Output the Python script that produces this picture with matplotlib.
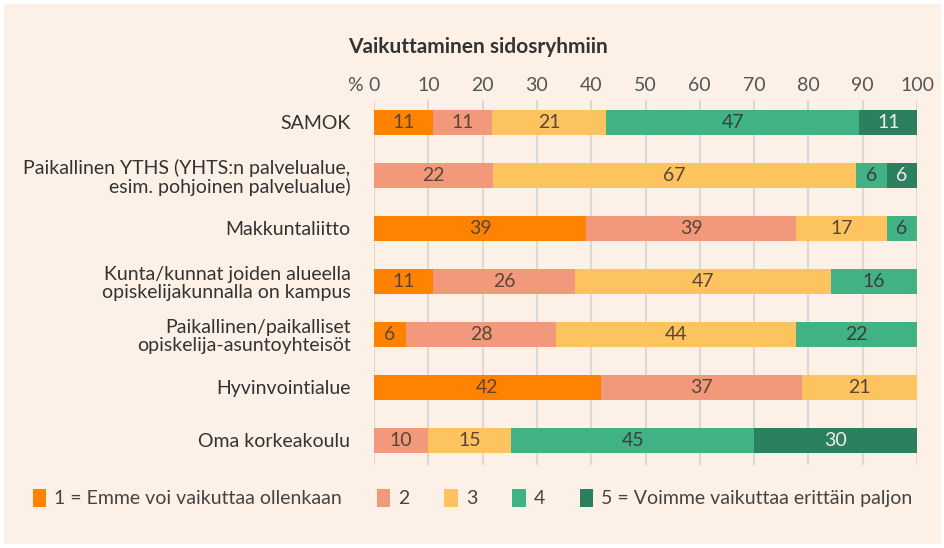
import matplotlib.pyplot as plt
from matplotlib.patches import Rectangle

plt.rcParams['font.family'] = ['Lato', 'DejaVu Sans']

categories = ["SAMOK",
              "Paikallinen YTHS (YHTS:n palvelualue,\nesim. pohjoinen palvelualue)",
              "Makkuntaliitto",
              "Kunta/kunnat joiden alueella\nopiskelijakunnalla on kampus",
              "Paikallinen/paikalliset\nopiskelija-asuntoyhteisöt",
              "Hyvinvointialue",
              "Oma korkeakoulu"]

# share of answers (%) per answer option 1..5
s1 = [10.9, 0, 39.1, 10.9, 5.9, 41.8, 0]
s2 = [10.9, 21.9, 38.7, 26.1, 27.6, 37.0, 10.0]
s3 = [21.0, 66.9, 16.6, 47.2, 44.2, 21.2, 15.3]
s4 = [46.6, 5.6, 5.6, 15.8, 22.3, 0, 44.7]
s5 = [10.6, 5.6, 0, 0, 0, 0, 30.0]

series_names = ["1 = Emme voi vaikuttaa ollenkaan", "2", "3", "4",
                "5 = Voimme vaikuttaa erittäin paljon"]
colors = ["#ff8300", "#f2997c", "#fcc35f", "#41b283", "#2b8060"]
text_colors = ["#5a4636", "#5a4636", "#5a4636", "#3d3d3d", "#eeeeee"]

fig = plt.figure(figsize=(9.45, 5.48), dpi=100, facecolor="white")
fig.patches.append(Rectangle((4 / 945, 4 / 548), 937 / 945, 540 / 548,
                             transform=fig.transFigure, facecolor="#fdf0e6",
                             edgecolor="none", zorder=-1))

ax = fig.add_axes([374 / 945, 83 / 548, 543 / 945, 365 / 548])
ax.set_facecolor("none")

y = list(range(len(categories)))
left = [0] * len(categories)
for vals, name, col, tcol in zip([s1, s2, s3, s4, s5], series_names, colors, text_colors):
    bars = ax.barh(y, vals, left=left, height=0.47, color=col, label=name, zorder=2)
    labels = ["%.0f" % v if v > 0 else "" for v in vals]
    ax.bar_label(bars, labels=labels, label_type="center", fontsize=14, color=tcol)
    left = [l + v for l, v in zip(left, vals)]

ax.set_xlim(0, 100)
ax.set_ylim(6.47, -0.42)
ax.set_xticks(range(0, 101, 10))
ax.xaxis.tick_top()
ax.tick_params(axis="x", length=0, labelsize=14, labelcolor="#555555", pad=4)
ax.tick_params(axis="y", length=0, labelsize=14, labelcolor="#333333", pad=17)
ax.set_yticks(y)
ax.set_yticklabels(categories)
for lab in ax.get_yticklabels():
    lab.set_linespacing(1.1)
ax.grid(axis="x", color="#dcd8d4", linewidth=1.5, zorder=0)
for sp in ax.spines.values():
    sp.set_visible(False)

ax.annotate("%", xy=(-2.0, 1.0), xycoords=("data", "axes fraction"),
            xytext=(0, 4), textcoords="offset points", ha="right", va="bottom",
            fontsize=14, color="#555555", annotation_clip=False)

fig.text(478 / 945, 1 - 47 / 548, "Vaikuttaminen sidosryhmiin", ha="center", va="center",
         fontsize=15, fontweight="bold", color="#333333")

fig.legend(loc="center", bbox_to_anchor=(0.5, 1 - 498 / 548), ncol=5, frameon=False,
           handlelength=0.7, handleheight=1.1, handletextpad=0.4,
           columnspacing=1.8, labelcolor="#444444", prop={"size": 14})

fig.savefig("out.png", dpi=100, facecolor=fig.get_facecolor())
